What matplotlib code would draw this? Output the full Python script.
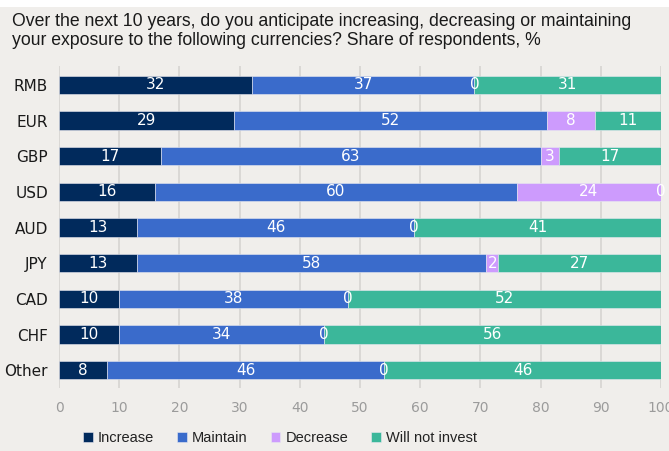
import matplotlib
matplotlib.use("Agg")
import matplotlib.pyplot as plt
import numpy as np

currencies = ['RMB', 'EUR', 'GBP', 'USD', 'AUD', 'JPY', 'CAD', 'CHF', 'Other']
increase = [32, 29, 17, 16, 13, 13, 10, 10, 8]
maintain = [37, 52, 63, 60, 46, 58, 38, 34, 46]
decrease = [0, 8, 3, 24, 0, 2, 0, 0, 0]
will_not = [31, 11, 17, 0, 41, 27, 52, 56, 46]
series_names = ['Increase', 'Maintain', 'Decrease', 'Will not invest']
colors = ['#012a5c', '#3a6bcb', '#cd9bfd', '#3bb79a']
xticks = [0, 10, 20, 30, 40, 50, 60, 70, 80, 90, 100]

bg = '#f0eeeb'
fig = plt.figure(figsize=(6.69, 4.51), dpi=100, facecolor=bg)
# white strip at the very top (cut off header above the chart)
fig.patches.append(plt.Rectangle((0, 1 - 7 / 451), 1, 7 / 451, transform=fig.transFigure,
                                 facecolor='white', edgecolor='none', zorder=0))

ax = fig.add_axes([59 / 669, 1 - 388 / 451, 602 / 669, 322 / 451])
ax.set_facecolor(bg)

y = np.arange(len(currencies))
data = [increase, maintain, decrease, will_not]
left = np.zeros(len(currencies))
for vals, name, col in zip(data, series_names, colors):
    vals = np.array(vals, dtype=float)
    ax.barh(y, vals, left=left, height=0.51, color=col, label=name,
            edgecolor='#e8e8f0', linewidth=0.4, zorder=3)
    for yi, l, v in zip(y, left, vals):
        ax.text(l + v / 2, yi, f'{int(v)}', ha='center', va='center', color='white',
                fontsize=11, family='DejaVu Sans', zorder=4)
    left += vals

ax.set_xlim(0, 100)
ax.set_ylim(8.5, -0.53)
ax.set_xticks(xticks)
ax.set_xticklabels([str(t) for t in xticks])
ax.set_yticks(y)
ax.set_yticklabels(currencies)
ax.tick_params(axis='x', length=0, pad=9, labelsize=10, labelcolor='#9b9b9b')
ax.tick_params(axis='y', length=0, pad=8, labelsize=11, labelcolor='#1a1a1a')
ax.grid(axis='x', color='#d8d6d3', linewidth=1.3, zorder=0)
for s in ax.spines.values():
    s.set_visible(False)

fig.text(12 / 669, 1 - 31 / 451,
         'Over the next 10 years, do you anticipate increasing, decreasing or maintaining\n'
         'your exposure to the following currencies? Share of respondents, %',
         ha='left', va='center', fontsize=12.7, family='Liberation Sans', color='#1a1a1a',
         linespacing=1.2)

handles, labels = ax.get_legend_handles_labels()
leg = fig.legend(handles, labels, loc='center', bbox_to_anchor=(280 / 669, 1 - 438 / 451),
                 ncol=4, frameon=False, prop={'family': 'Liberation Sans', 'size': 10.5},
                 handlelength=0.65, handleheight=0.65, handletextpad=0.35, columnspacing=1.6)
for t in leg.get_texts():
    t.set_color('#222222')

fig.savefig('out.png', dpi=100, facecolor=bg)
